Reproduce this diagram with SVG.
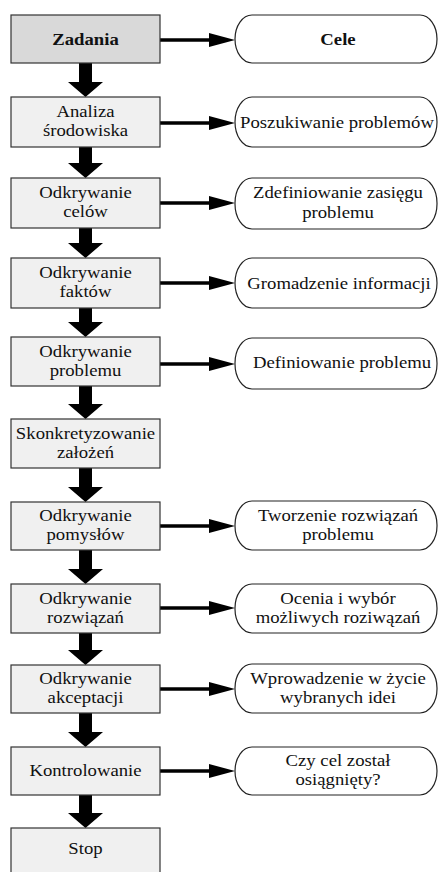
<svg xmlns="http://www.w3.org/2000/svg" width="438" height="872" viewBox="0 0 438 872">
<defs>
<style>
.box{fill:#f0f0f0;stroke:#333;stroke-width:1.2}
.box.dark{fill:#d9d9d9}
.pill{fill:#fff;stroke:#222;stroke-width:1.2}
.t{font-size:16px;fill:#111;text-anchor:middle}
.b{font-weight:bold}
.hl{stroke:#000;stroke-width:3.5;fill:none}
.ah{fill:#000}
</style>
</defs>
<rect width="438" height="872" fill="#fff"/>
<g id="connectors">
<g id="horizontal">
<line class="hl" x1="160" y1="40" x2="212" y2="40"/><polygon class="ah" points="209,33 235,40 209,47"/>
<line class="hl" x1="160" y1="123" x2="212" y2="123"/><polygon class="ah" points="209,116 235,123 209,130"/>
<line class="hl" x1="160" y1="203" x2="212" y2="203"/><polygon class="ah" points="209,196 235,203 209,210"/>
<line class="hl" x1="160" y1="283" x2="212" y2="283"/><polygon class="ah" points="209,276 235,283 209,290"/>
<line class="hl" x1="160" y1="364" x2="212" y2="364"/><polygon class="ah" points="209,357 235,364 209,371"/>
<line class="hl" x1="160" y1="526" x2="212" y2="526"/><polygon class="ah" points="209,519 235,526 209,533"/>
<line class="hl" x1="160" y1="608" x2="212" y2="608"/><polygon class="ah" points="209,601 235,608 209,615"/>
<line class="hl" x1="160" y1="689" x2="212" y2="689"/><polygon class="ah" points="209,682 235,689 209,696"/>
<line class="hl" x1="160" y1="771" x2="212" y2="771"/><polygon class="ah" points="209,764 235,771 209,778"/>
</g>
<g id="vertical" class="ah">
<polygon points="79,63 92,63 92,82 103,82 85.5,97 68,82 79,82"/>
<polygon points="79,147 92,147 92,163 103,163 85.5,178 68,163 79,163"/>
<polygon points="79,228 92,228 92,243 103,243 85.5,258 68,243 79,243"/>
<polygon points="79,308 92,308 92,322 103,322 85.5,337 68,322 79,322"/>
<polygon points="79,386 92,386 92,404 103,404 85.5,419 68,404 79,404"/>
<polygon points="79,468 92,468 92,487 103,487 85.5,502 68,487 79,487"/>
<polygon points="79,550 92,550 92,569 103,569 85.5,584 68,569 79,569"/>
<polygon points="79,633 92,633 92,650 103,650 85.5,665 68,650 79,650"/>
<polygon points="79,713 92,713 92,732 103,732 85.5,747 68,732 79,732"/>
<polygon points="79,795 92,795 92,813 103,813 85.5,828 68,813 79,813"/>
</g>
</g>
<g font-family="Liberation Serif, Times New Roman, Times, Tinos, Noto Serif, DejaVu Serif, FreeSerif, serif">
<g id="n1"><rect class="box dark" x="11" y="15" width="149" height="48"/><text class="t b" transform="translate(85.5,45) scale(1.17,1)">Zadania</text></g>
<g id="n2"><rect class="box" x="11" y="97" width="149" height="50"/><text class="t" transform="translate(85.5,117) scale(1.17,1)">Analiza</text><text class="t" transform="translate(85.5,136) scale(1.17,1)">środowiska</text></g>
<g id="n3"><rect class="box" x="11" y="178" width="149" height="50"/><text class="t" transform="translate(85.5,198) scale(1.17,1)">Odkrywanie</text><text class="t" transform="translate(85.5,217) scale(1.17,1)">celów</text></g>
<g id="n4"><rect class="box" x="11" y="258" width="149" height="50"/><text class="t" transform="translate(85.5,278) scale(1.17,1)">Odkrywanie</text><text class="t" transform="translate(85.5,297) scale(1.17,1)">faktów</text></g>
<g id="n5"><rect class="box" x="11" y="337" width="149" height="49"/><text class="t" transform="translate(85.5,357) scale(1.17,1)">Odkrywanie</text><text class="t" transform="translate(85.5,376) scale(1.17,1)">problemu</text></g>
<g id="n6"><rect class="box" x="11" y="419" width="149" height="49"/><text class="t" transform="translate(85.5,439) scale(1.17,1)">Skonkretyzowanie</text><text class="t" transform="translate(85.5,458) scale(1.17,1)">założeń</text></g>
<g id="n7"><rect class="box" x="11" y="502" width="149" height="48"/><text class="t" transform="translate(85.5,521) scale(1.17,1)">Odkrywanie</text><text class="t" transform="translate(85.5,540) scale(1.17,1)">pomysłów</text></g>
<g id="n8"><rect class="box" x="11" y="584" width="149" height="49"/><text class="t" transform="translate(85.5,604) scale(1.17,1)">Odkrywanie</text><text class="t" transform="translate(85.5,623) scale(1.17,1)">rozwiązań</text></g>
<g id="n9"><rect class="box" x="11" y="665" width="149" height="48"/><text class="t" transform="translate(85.5,684) scale(1.17,1)">Odkrywanie</text><text class="t" transform="translate(85.5,703) scale(1.17,1)">akceptacji</text></g>
<g id="n10"><rect class="box" x="11" y="747" width="149" height="48"/><text class="t" transform="translate(85.5,776) scale(1.17,1)">Kontrolowanie</text></g>
<g id="n11"><rect class="box" x="11" y="828" width="149" height="50"/><text class="t" transform="translate(85.5,854) scale(1.17,1)">Stop</text></g>
<g id="p1"><rect class="pill" x="235" y="15" width="202" height="48" rx="17" ry="24"/><text class="t b" transform="translate(338,45) scale(1.17,1)">Cele</text></g>
<g id="p2"><rect class="pill" x="235" y="97" width="202" height="50" rx="17" ry="25"/><text class="t" transform="translate(337,128) scale(1.17,1)">Poszukiwanie problemów</text></g>
<g id="p3"><rect class="pill" x="235" y="178" width="202" height="51" rx="17" ry="25"/><text class="t" transform="translate(338,198) scale(1.17,1)">Zdefiniowanie zasięgu</text><text class="t" transform="translate(338,218) scale(1.17,1)">problemu</text></g>
<g id="p4"><rect class="pill" x="235" y="258" width="202" height="50" rx="17" ry="25"/><text class="t" transform="translate(339,289) scale(1.17,1)">Gromadzenie informacji</text></g>
<g id="p5"><rect class="pill" x="235" y="338" width="202" height="51" rx="17" ry="25"/><text class="t" transform="translate(342,368) scale(1.17,1)">Definiowanie problemu</text></g>
<g id="p7"><rect class="pill" x="235" y="501" width="202" height="49" rx="17" ry="24"/><text class="t" transform="translate(338,521) scale(1.17,1)">Tworzenie rozwiązań</text><text class="t" transform="translate(338,540) scale(1.17,1)">problemu</text></g>
<g id="p8"><rect class="pill" x="235" y="584" width="202" height="49" rx="17" ry="24"/><text class="t" transform="translate(338,604) scale(1.17,1)">Ocenia i wybór</text><text class="t" transform="translate(338,623) scale(1.17,1)">możliwych roziwązań</text></g>
<g id="p9"><rect class="pill" x="235" y="664" width="202" height="49" rx="17" ry="24"/><text class="t" transform="translate(338,684) scale(1.17,1)">Wprowadzenie w życie</text><text class="t" transform="translate(338,703) scale(1.17,1)">wybranych idei</text></g>
<g id="p10"><rect class="pill" x="235" y="747" width="202" height="48" rx="17" ry="24"/><text class="t" transform="translate(338,766) scale(1.17,1)">Czy cel został</text><text class="t" transform="translate(338,785) scale(1.17,1)">osiągnięty?</text></g>
</g>
</svg>
